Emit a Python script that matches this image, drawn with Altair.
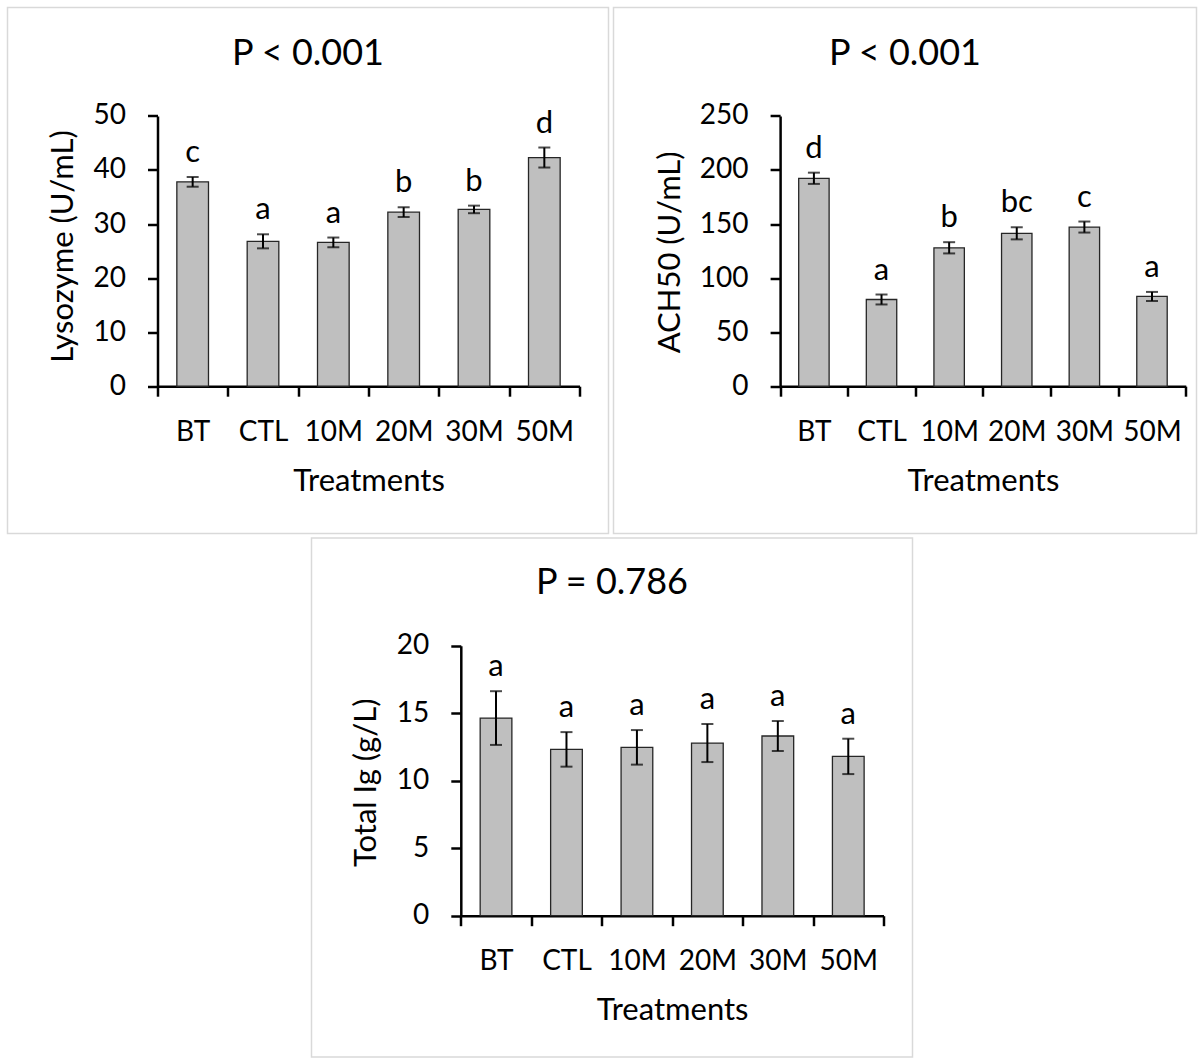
import altair as alt
import pandas as pd

treatments = ["BT", "CTL", "10M", "20M", "30M", "50M"]

lysozyme_mean = [37.8, 26.8, 26.6, 32.2, 32.7, 42.3]
lysozyme_err = [0.9, 1.3, 0.9, 0.9, 0.7, 1.85]
lysozyme_letters = ["c", "a", "a", "b", "b", "d"]

ach50_mean = [192.3, 80.2, 128.0, 141.4, 147.2, 83.0]
ach50_err = [5.2, 4.6, 5.2, 5.6, 5.1, 4.2]
ach50_letters = ["d", "a", "b", "bc", "c", "a"]

ig_mean = [14.64, 12.32, 12.47, 12.79, 13.31, 11.80]
ig_err = [1.99, 1.28, 1.28, 1.41, 1.11, 1.31]
ig_letters = ["a", "a", "a", "a", "a", "a"]

FONT = "Lato"
BORDER = "#d9d9d9"


def panel(mean, err, letters, ymax, ystep, ytitle, ptitle,
          W, H, xr, yr, ytx, yty, tdy):
    df = pd.DataFrame({
        "t": treatments,
        "m": mean,
        "lo": [m - e for m, e in zip(mean, err)],
        "hi": [m + e for m, e in zip(mean, err)],
        "lab": letters,
    })
    xaxis = alt.Axis(
        title="Treatments", orient="bottom", offset=yr[0] - H,
        tickBand="extent", tickSize=10, tickWidth=2.5, tickColor="black",
        domainColor="black", domainWidth=2.5, grid=False,
        labelFont=FONT, labelFontSize=28, labelColor="black",
        labelPadding=22, labelAngle=0,
        titleFont=FONT, titleFontSize=31, titleFontWeight="normal",
        titleColor="black", titleBaseline="alphabetic", titleY=104,
    )
    yaxis = alt.Axis(
        title=ytitle, orient="left", offset=-xr[0],
        values=list(range(0, ymax + 1, ystep)),
        tickSize=10, tickWidth=2.5, tickColor="black",
        domainColor="black", domainWidth=2.5, grid=False,
        labelFont=FONT, labelFontSize=28, labelColor="black",
        labelPadding=22,
        titleFont=FONT, titleFontSize=31, titleFontWeight="normal",
        titleColor="black", titleBaseline="alphabetic", titleAlign="center",
        titleAngle=270, titleX=ytx, titleY=yty,
    )
    xs = alt.Scale(range=xr, paddingInner=0, paddingOuter=0)
    ys = alt.Scale(domain=[0, ymax], range=yr, nice=False, zero=True)
    x_enc = alt.X("t:N", sort=treatments, scale=xs, axis=xaxis)

    base = alt.Chart(df)
    bars = base.mark_bar(
        width=alt.RelativeBandSize(0.45), fill="#bfbfbf",
        stroke="#262626", strokeWidth=1.3,
    ).encode(x=x_enc, y=alt.Y("m:Q", scale=ys, axis=yaxis))
    rules = base.mark_rule(color="black", strokeWidth=2).encode(
        x=x_enc, y=alt.Y("lo:Q", scale=ys, axis=yaxis), y2="hi:Q")
    cap_hi = base.mark_tick(color="black", size=12, thickness=2).encode(
        x=x_enc, y=alt.Y("hi:Q", scale=ys, axis=yaxis))
    cap_lo = base.mark_tick(color="black", size=12, thickness=2).encode(
        x=x_enc, y=alt.Y("lo:Q", scale=ys, axis=yaxis))
    labels = base.mark_text(
        font=FONT, fontSize=31, color="black", baseline="alphabetic", dy=-15,
    ).encode(x=x_enc, y=alt.Y("hi:Q", scale=ys, axis=yaxis), text="lab:N")

    return alt.layer(bars, rules, cap_hi, cap_lo, labels).properties(
        width=W, height=H,
        title=alt.TitleParams(
            text=ptitle, font=FONT, fontSize=36, fontWeight="normal",
            color="black", anchor="middle", frame="group",
            baseline="alphabetic", offset=-59, dy=tdy,
        ),
        view=alt.ViewBackground(stroke=BORDER, strokeWidth=1.5, fill="white"),
    )


p1 = panel(lysozyme_mean, lysozyme_err, lysozyme_letters, 50, 10,
           "Lysozyme (U/mL)", "P < 0.001",
           601, 526, [150, 572], [378.7, 108.4], -84.6, 238.5, 34)
p2 = panel(ach50_mean, ach50_err, ach50_letters, 250, 50,
           "ACH50 (U/mL)", "P < 0.001",
           583, 526, [166.6, 572.3], [378.7, 108.4], -101, 244.4, 34)
p3 = panel(ig_mean, ig_err, ig_letters, 20, 5,
           "Total Ig (g/L)", "P = 0.786",
           601, 519, [149.3, 572], [377.7, 107.7], -84.9, 244.3, 33)

spacer = alt.Chart(pd.DataFrame({"v": [0]})).mark_point(
    opacity=0, size=0
).encode(
    x=alt.value(100), y=alt.value(5)
).properties(
    width=299, height=10,
    view=alt.ViewBackground(stroke="white", strokeWidth=1.5),
)

chart = alt.vconcat(
    alt.hconcat(p1, p2, spacing=3),
    alt.hconcat(spacer, p3, spacing=3),
    spacing=2.5,
).properties(
    padding={"left": 6.5, "top": 6.5, "right": 0, "bottom": 0},
    background="white",
)

chart.save("out.html", embed_options={"renderer": "svg", "actions": False})
